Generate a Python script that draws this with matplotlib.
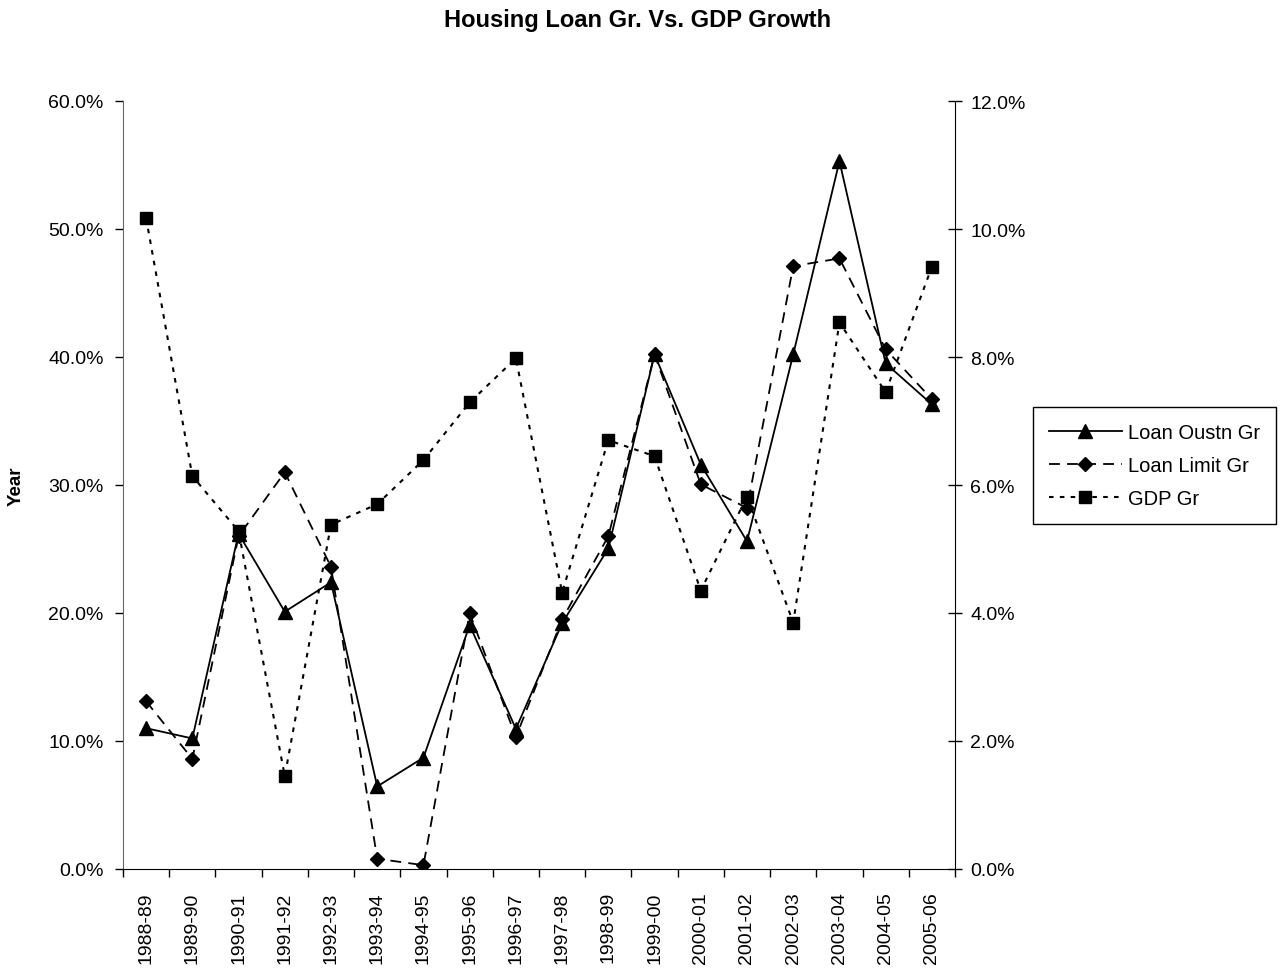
import matplotlib
matplotlib.use("Agg")
import matplotlib.pyplot as plt
from matplotlib.ticker import FuncFormatter, FixedLocator
import numpy as np

plt.rcParams['font.family'] = ['Liberation Sans', 'DejaVu Sans']

years = ["1988-89", "1989-90", "1990-91", "1991-92", "1992-93", "1993-94",
         "1994-95", "1995-96", "1996-97", "1997-98", "1998-99", "1999-00",
         "2000-01", "2001-02", "2002-03", "2003-04", "2004-05", "2005-06"]
loan_oustn = [11.0, 10.2, 26.2, 20.1, 22.4, 6.45, 8.7, 19.05, 10.95, 19.2,
              25.05, 40.2, 31.6, 25.6, 40.2, 55.3, 39.5, 36.3]
loan_limit = [13.1, 8.6, 26.0, 31.0, 23.6, 0.8, 0.3, 20.0, 10.3, 19.5,
              26.0, 40.2, 30.05, 28.2, 47.1, 47.7, 40.6, 36.7]
gdp = [10.17, 6.14, 5.28, 1.45, 5.38, 5.70, 6.39, 7.29, 7.98, 4.32,
       6.70, 6.45, 4.35, 5.82, 3.85, 8.54, 7.45, 9.41]

fig = plt.figure(figsize=(12.85, 9.7), dpi=100)
ax = fig.add_axes([123/1285, 1-870/970, (955-123)/1285, (870-102)/970])
ax2 = ax.twinx()

x = np.arange(len(years))
fs = 14
lw = 1.3

l1, = ax.plot(x, np.array(loan_oustn)/100, color='black', linestyle='-', linewidth=lw,
              marker='^', markersize=9.5, label='Loan Oustn Gr')
l2, = ax.plot(x, np.array(loan_limit)/100, color='black', linestyle=(0, (6, 4)), linewidth=lw,
              marker='D', markersize=7, label='Loan Limit Gr')
l3, = ax2.plot(x, np.array(gdp)/100, color='black', linestyle=(0, (2.2, 3)), linewidth=lw+0.2,
               marker='s', markersize=8.5, label='GDP Gr')
ax.set_zorder(ax2.get_zorder()+1)
ax.patch.set_visible(False)

ax.set_xlim(-0.5, len(years)-0.5)
ax.set_ylim(0, 0.6)
ax2.set_ylim(0, 0.12)
ax.set_yticks(np.arange(0, 0.61, 0.1))
ax2.set_yticks(np.arange(0, 0.121, 0.02))
pct = FuncFormatter(lambda v, p: f"{v*100:.1f}%")
ax.yaxis.set_major_formatter(pct)
ax2.yaxis.set_major_formatter(pct)

ax.set_xticks(x)
ax.set_xticklabels(years, rotation=90, fontsize=fs)
ax.tick_params(axis='x', which='major', length=0, pad=16)
ax.xaxis.set_minor_locator(FixedLocator(np.arange(-0.5, len(years), 1.0)))
ax.tick_params(axis='x', which='minor', length=6, direction='out', width=1)
ax.tick_params(axis='y', labelsize=fs, length=6, direction='out', width=1, pad=8)
ax2.tick_params(axis='y', labelsize=fs, length=10, direction='inout', width=1, pad=6)

for a in (ax, ax2):
    a.spines['top'].set_visible(False)
ax2.spines['left'].set_visible(False)
ax2.spines['bottom'].set_visible(False)
ax.spines['right'].set_visible(False)
ax.spines['left'].set_color('#666666')

ax.set_ylabel('Year', fontsize=13.5, fontweight='bold')
ax.yaxis.set_label_coords((25-123)/832, 0.5)

fig.text(638/1285, 1-21/970, 'Housing Loan Gr. Vs. GDP Growth', ha='center', va='center',
         fontsize=17, fontweight='bold')

leg = fig.legend(handles=[l1, l2, l3], loc='upper left',
                 bbox_to_anchor=(1033/1285, 1-408/970), fontsize=14.5,
                 frameon=True, fancybox=False, edgecolor='black', framealpha=1,
                 handlelength=3.6, handletextpad=0.3, borderpad=0.8, labelspacing=0.7,
                 borderaxespad=0)
leg.get_frame().set_linewidth(1.0)

fig.savefig('out.png', dpi=100)
